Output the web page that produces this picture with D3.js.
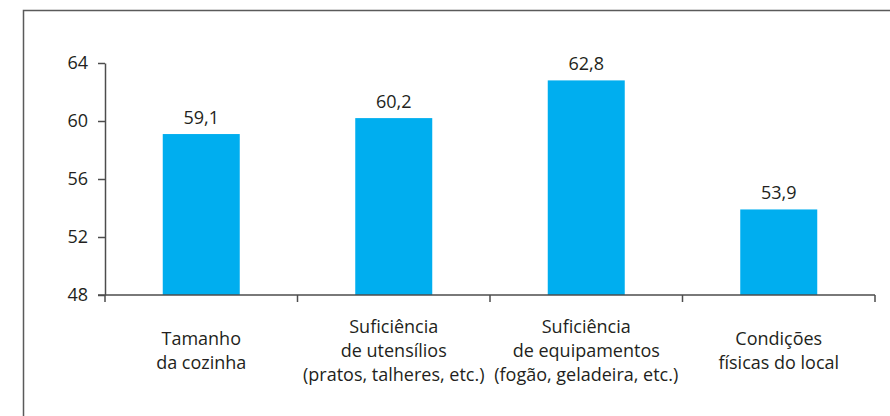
<!DOCTYPE html>
<html>
<head>
<meta charset="utf-8">
<script src="https://cdn.jsdelivr.net/npm/d3@7"></script>
<style>
  body { margin: 0; background: #fff; }
  svg { display: block; font-family: "Open Sans", sans-serif; }
</style>
</head>
<body>
<div id="chart"></div>
<script>
// Categories (each one split in lines) and values
const categories = [
    ['Tamanho', 'da cozinha'],
    ['Suficiência', 'de utensílios', '(pratos, talheres, etc.)'],
    ['Suficiência', 'de equipamentos', '(fogão, geladeira, etc.)'],
    ['Condições', 'físicas do local']
];
const values = [59.1, 60.2, 62.8, 53.9];
const yTicks = [48, 52, 56, 60, 64];

const width = 890, height = 416;
const margin = { left: 105, right: 15, top: 63, bottom: 121 };
const font = '"Open Sans", sans-serif';
const fontSize = 18;

const svg = d3.select('#chart')
    .append('svg')
    .attr('width', width)
    .attr('height', height);

// Frame around the chart
svg.append('rect')
    .attr('x', 23.5)
    .attr('y', 10.5)
    .attr('width', 900)
    .attr('height', 450)
    .attr('fill', 'none')
    .attr('stroke', '#5a5a5a')
    .attr('stroke-width', 1.5);

const xScale = d3.scaleBand()
    .domain(d3.range(categories.length))
    .range([margin.left, width - margin.right]);

const yScale = d3.scaleLinear()
    .domain([48, 64])
    .range([height - margin.bottom, margin.top]);

const barWidth = xScale.bandwidth() * 0.4;

// Bars
svg.selectAll('rect.bar')
    .data(values)
    .enter()
    .append('rect')
    .attr('class', 'bar')
    .attr('x', (d, i) => xScale(i) + (xScale.bandwidth() - barWidth) / 2)
    .attr('y', d => yScale(d))
    .attr('width', barWidth)
    .attr('height', d => yScale(48) - yScale(d))
    .attr('fill', '#00aeef');

// Value labels
svg.selectAll('text.value')
    .data(values)
    .enter()
    .append('text')
    .attr('class', 'value')
    .attr('x', (d, i) => xScale(i) + xScale.bandwidth() / 2)
    .attr('y', d => yScale(d) - 10)
    .attr('text-anchor', 'middle')
    .attr('font-size', fontSize)
    .attr('fill', '#231f20')
    .text(d => d.toFixed(1).replace('.', ','));

// Y axis
const yAxis = svg.append('g')
    .attr('transform', `translate(${margin.left},0)`)
    .call(d3.axisLeft(yScale).tickValues(yTicks).tickSize(7).tickPadding(10).tickSizeOuter(0));
yAxis.select('.domain').attr('stroke', '#4d4d4d').attr('stroke-width', 1.5);
yAxis.selectAll('.tick line').attr('stroke', '#4d4d4d').attr('stroke-width', 1.5);
yAxis.selectAll('.tick text')
    .attr('font-size', fontSize)
    .attr('font-family', font)
    .attr('fill', '#231f20');

// X axis: ticks on category boundaries
const boundaries = d3.range(categories.length + 1).map(i => margin.left + i * xScale.bandwidth());
const xAxis = svg.append('g').attr('transform', `translate(0,${yScale(48)})`);
xAxis.append('line')
    .attr('x1', margin.left - 7)
    .attr('x2', width - margin.right)
    .attr('stroke', '#4d4d4d')
    .attr('stroke-width', 1.5);
xAxis.selectAll('line.tick')
    .data(boundaries)
    .enter()
    .append('line')
    .attr('class', 'tick')
    .attr('x1', d => d)
    .attr('x2', d => d)
    .attr('y1', 0)
    .attr('y2', 7)
    .attr('stroke', '#4d4d4d')
    .attr('stroke-width', 1.5);

// Category labels
const lineHeight = 24;
const labelMid = 351;
categories.forEach((lines, i) => {
    const t = svg.append('text')
        .attr('text-anchor', 'middle')
        .attr('font-size', fontSize)
        .attr('fill', '#231f20');
    lines.forEach((line, j) => {
        t.append('tspan')
            .attr('x', xScale(i) + xScale.bandwidth() / 2)
            .attr('y', labelMid + (j - (lines.length - 1) / 2) * lineHeight + 6)
            .text(line);
    });
});
</script>
</body>
</html>
